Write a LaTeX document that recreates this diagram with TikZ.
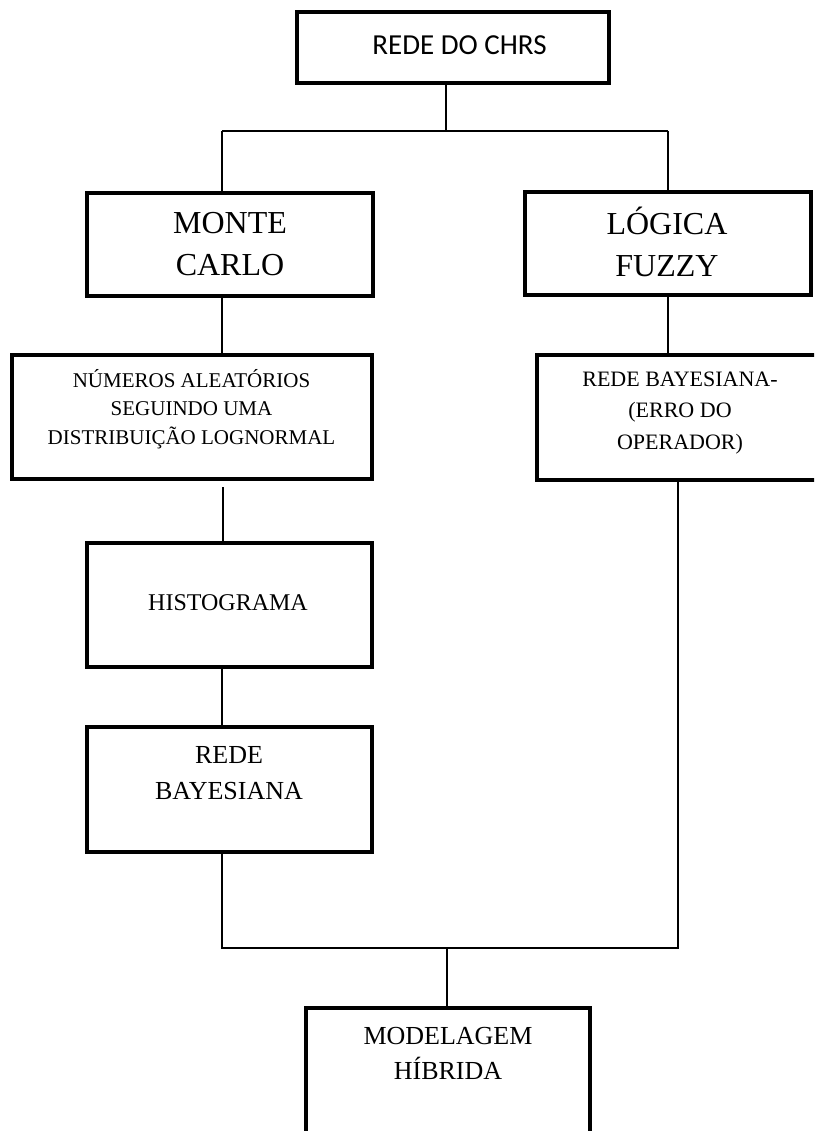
\documentclass[tikz,border=0pt]{standalone}
\usepackage{fontspec}
\setmainfont{Liberation Serif}
\newfontfamily\calibrifont{Carlito}
\begin{document}
\begin{tikzpicture}[x=1pt,y=-1pt,
  box/.style={draw, line width=3.5pt, rectangle, inner sep=0pt},
  link/.style={line width=1.7pt},
  txt/.style={align=center, inner sep=0pt}]
\useasboundingbox (0,0) rectangle (814,1131);
\clip (0,0) rectangle (814,1131);
% boxes
\node[box, minimum width=312pt, minimum height=71pt] (top) at (453,47.5) {};
\node[box, minimum width=286pt, minimum height=103pt] (mc) at (230,244.5) {};
\node[box, minimum width=286pt, minimum height=103pt] (lf) at (668,243.5) {};
\node[box, minimum width=360pt, minimum height=124pt] (num) at (192,417) {};
\node[box, minimum width=293pt, minimum height=125pt] (rbe) at (683.5,417.5) {};
\node[box, minimum width=285pt, minimum height=124pt] (hist) at (229.5,605) {};
\node[box, minimum width=285pt, minimum height=125pt] (rb) at (229.5,789.5) {};
\node[box, minimum width=284pt, minimum height=160pt] (mh) at (448,1088) {};
% texts
\node[txt, font=\calibrifont\fontsize{29}{34}\selectfont] (ttop) at (459.5,45) {REDE DO CHRS};
\node[txt, font=\fontsize{32}{42}\selectfont] (tmc) at (230,244.5) {MONTE\\CARLO};
\node[txt, font=\fontsize{32}{42}\selectfont] (tlf) at (667,242) {LÓGICA\\FUZZY};
\node[txt, font=\fontsize{21}{28.5}\selectfont] (tnum) at (191.5,409) {NÚMEROS ALEATÓRIOS\\SEGUINDO UMA\\DISTRIBUIÇÃO LOGNORMAL};
\node[txt, font=\fontsize{22}{31.5}\selectfont] (trbe) at (680,413) {REDE BAYESIANA-\\(ERRO DO\\OPERADOR)};
\node[txt, font=\fontsize{24}{30}\selectfont] (thist) at (228,603) {HISTOGRAMA};
\node[txt, font=\fontsize{26}{36}\selectfont] (trb) at (229,773) {REDE\\BAYESIANA};
\node[txt, font=\fontsize{26}{35}\selectfont] (tmh) at (448,1053) {MODELAGEM\\HÍBRIDA};
% junction points
\coordinate (jt) at (446,131);
\coordinate (jl) at (222,131);
\coordinate (jr) at (668,131);
\coordinate (ns) at (223,487);
\coordinate (bl) at (222,948);
\coordinate (br) at (678,948);
\coordinate (jb) at (447,948);
% connectors
\draw[link] (top.south -| jt) -- (jt);
\draw[link] (jl) -- (jr);
\draw[link] (jl) -- (jl |- mc.north);
\draw[link] (jr) -- (jr |- lf.north);
\draw[link] (jl |- mc.south) -- (jl |- num.north);
\draw[link] (lf.south) -- (lf.south |- rbe.north);
\draw[link] (ns) -- (ns |- hist.north);
\draw[link] (jl |- hist.south) -- (jl |- rb.north);
\draw[link] (jl |- rb.south) -- (bl) -- (br) -- (br |- rbe.south);
\draw[link] (jb) -- (jb |- mh.north);
\end{tikzpicture}
\end{document}
